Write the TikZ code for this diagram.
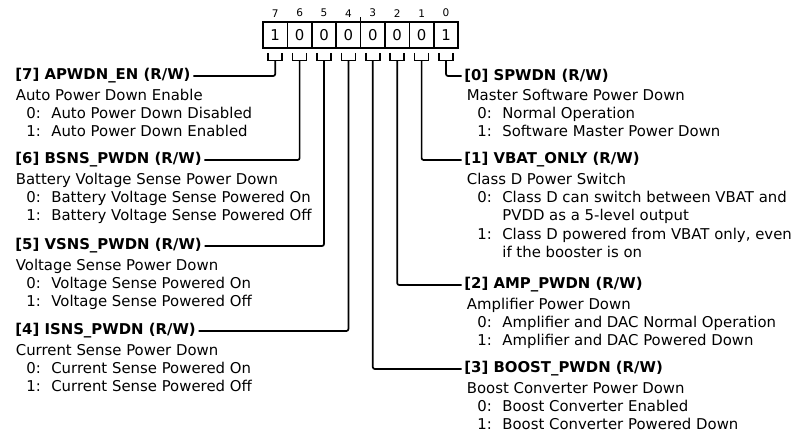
\documentclass[tikz,border=0pt]{standalone}
\usepackage{fontspec}
\setmainfont{DejaVu Sans}
\usetikzlibrary{positioning}
\definecolor{cink}{HTML}{000000}
\tikzset{
  every picture/.style={x=1pt, y=1pt, line width=1.7pt, font=\fontsize{14.9}{18.3}\selectfont},
  cell/.style={draw=cink, minimum width=24.4pt, minimum height=26pt, inner sep=0pt, outer sep=0pt},
  bitno/.style={font=\fontsize{10.5}{12}\selectfont, inner sep=0pt},
  field/.style={font=\fontsize{14.9}{18.3}\selectfont\bfseries, inner sep=0pt, inner xsep=2pt, anchor=west},
  desc/.style={align=left, inner sep=0pt, anchor=base west},
  brk/.style={draw=cink, line width=1.7pt},
  wire/.style={draw=cink, line width=1.7pt, rounded corners=2pt},
}

\begin{document}
\begin{tikzpicture}
  \newcommand{\vopt}[2]{\hspace*{10.5pt}\makebox[25pt][l]{#1:}#2}
  \newcommand{\vcont}[1]{\hspace*{35.5pt}#1}
  \newcommand{\fork}[1]{\draw[brk] ([xshift=-7pt,yshift=-5pt]#1.south) -- ++(0,-7.5) -- ++(14,0) -- ++(0,7.5);}
  \useasboundingbox (0,0) rectangle (791,-438);

  % register
  \node[cell] (b7) at (275.2,-35) {1};
  \node[cell, right=0pt of b7] (b6) {0};
  \node[cell, right=0pt of b6] (b5) {0};
  \node[cell, right=0pt of b5] (b4) {0};
  \node[cell, right=0pt of b4] (b3) {0};
  \node[cell, right=0pt of b3] (b2) {0};
  \node[cell, right=0pt of b2] (b1) {0};
  \node[cell, right=0pt of b1] (b0) {1};
  \node[bitno, above=4pt of b7] (n7) {7};
  \node[bitno, above=4pt of b6] (n6) {6};
  \node[bitno, above=4pt of b5] (n5) {5};
  \node[bitno, above=4pt of b4] (n4) {4};
  \node[bitno, above=4pt of b3] (n3) {3};
  \node[bitno, above=4pt of b2] (n2) {2};
  \node[bitno, above=4pt of b1] (n1) {1};
  \node[bitno, above=4pt of b0] (n0) {0};
  \draw[brk] (b4.north east) -- ++(0,5);
  \fork{b7} \fork{b6} \fork{b5} \fork{b4}
  \fork{b3} \fork{b2} \fork{b1} \fork{b0}

  % left fields (desc base = last line)
  \node[field] (h7) at (12.5,-76) {[7] APWDN\_EN (R/W)};
  \node[desc] (d7) at (15,-136.9) {Auto Power Down Enable\\\vopt{0}{Auto Power Down Disabled}\\\vopt{1}{Auto Power Down Enabled}};
  \draw[wire] ([yshift=-12.5pt]b7.south) |- (h7.east);

  \node[field] (h6) at (12.5,-160) {[6] BSNS\_PWDN (R/W)};
  \node[desc] (d6) at (15,-220.9) {Battery Voltage Sense Power Down\\\vopt{0}{Battery Voltage Sense Powered On}\\\vopt{1}{Battery Voltage Sense Powered Off}};
  \draw[wire] ([yshift=-12.5pt]b6.south) |- (h6.east);

  \node[field] (h5) at (12.5,-246) {[5] VSNS\_PWDN (R/W)};
  \node[desc] (d5) at (15,-306.9) {Voltage Sense Power Down\\\vopt{0}{Voltage Sense Powered On}\\\vopt{1}{Voltage Sense Powered Off}};
  \draw[wire] ([yshift=-12.5pt]b5.south) |- (h5.east);

  \node[field] (h4) at (12.5,-331) {[4] ISNS\_PWDN (R/W)};
  \node[desc] (d4) at (15,-391.9) {Current Sense Power Down\\\vopt{0}{Current Sense Powered On}\\\vopt{1}{Current Sense Powered Off}};
  \draw[wire] ([yshift=-12.5pt]b4.south) |- (h4.east);

  % right fields
  \node[field] (h0) at (461.5,-76) {[0] SPWDN (R/W)};
  \node[desc] (d0) at (466,-136.9) {Master Software Power Down\\\vopt{0}{Normal Operation}\\\vopt{1}{Software Master Power Down}};
  \draw[wire] ([yshift=-12.5pt]b0.south) |- (h0.west);

  \node[field] (h1) at (461.5,-160) {[1] VBAT\_ONLY (R/W)};
  \node[desc] (d1) at (466,-257.5) {Class D Power Switch\\\vopt{0}{Class D can switch between VBAT and}\\\vcont{PVDD as a 5-level output}\\\vopt{1}{Class D powered from VBAT only, even}\\\vcont{if the booster is on}};
  \draw[wire] ([yshift=-12.5pt]b1.south) |- (h1.west);

  \node[field] (h2) at (461.5,-285) {[2] AMP\_PWDN (R/W)};
  \node[desc] (d2) at (466,-345.9) {Amplifier Power Down\\\vopt{0}{Amplifier and DAC Normal Operation}\\\vopt{1}{Amplifier and DAC Powered Down}};
  \draw[wire] ([yshift=-12.5pt]b2.south) |- (h2.west);

  \node[field] (h3) at (461.5,-369) {[3] BOOST\_PWDN (R/W)};
  \node[desc] (d3) at (466,-429.9) {Boost Converter Power Down\\\vopt{0}{Boost Converter Enabled}\\\vopt{1}{Boost Converter Powered Down}};
  \draw[wire] ([yshift=-12.5pt]b3.south) |- (h3.west);
\end{tikzpicture}
\end{document}
